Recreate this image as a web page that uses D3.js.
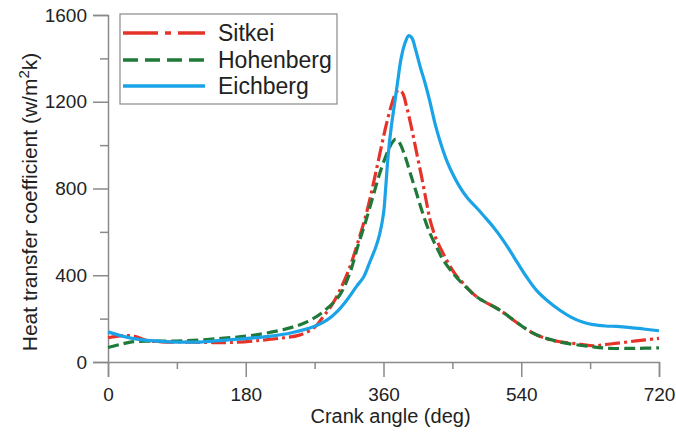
<!DOCTYPE html>
<html>
<head>
<meta charset="utf-8">
<script src="https://cdn.jsdelivr.net/npm/d3@7"></script>
<style>
  html, body { margin: 0; padding: 0; background: #fff; }
  svg { display: block; font-family: "Liberation Sans", Arial, sans-serif; }
</style>
</head>
<body>
<svg id="chart" width="676" height="436"></svg>
<script>
// ---- Data ----
const sitkeiAngle = [0, 20, 35, 50, 70, 100, 130, 160, 200, 230, 250, 270, 281, 292, 303, 316, 329, 338, 346, 354, 362, 370, 376, 380, 385, 390, 396, 403, 410, 416, 421, 428, 438, 453, 465, 482, 512, 535, 556, 575, 591, 610, 634, 656, 690, 720];
const sitkeiValue = [112, 122, 118, 100, 93, 92, 90, 90, 100, 112, 124, 160, 208, 260, 331, 438, 580, 690, 810, 940, 1070, 1180, 1240, 1254, 1240, 1180, 1090, 970, 850, 740, 653, 575, 500, 408, 360, 300, 239, 180, 132, 105, 93, 85, 75, 83, 97, 109];

const hohenAngle = [0, 15, 31, 60, 96, 148, 191, 235, 260, 281, 303, 316, 327, 336, 346, 356, 366, 372, 376, 381, 388, 395, 403, 410, 420, 430, 438, 453, 465, 482, 512, 556, 590, 634, 656, 690, 720];
const hohenValue = [67, 80, 93, 96, 97, 109, 124, 155, 185, 231, 310, 410, 540, 640, 760, 880, 975, 1015, 1028, 1010, 950, 870, 780, 700, 600, 525, 470, 400, 355, 300, 239, 132, 93, 70, 63, 63, 65];

const eichAngle = [0, 30, 60, 90, 120, 150, 180, 210, 240, 270, 286, 300, 312, 325, 334, 342, 350, 355, 360, 363, 366, 370, 374, 378, 383, 388, 393, 397, 402, 408, 414, 420, 428, 436, 443, 450, 460, 470, 482, 492, 504, 515, 525, 536, 547, 560, 575, 590, 605, 620, 634, 650, 665, 680, 700, 720];
const eichValue = [139, 110, 97, 92, 92, 100, 108, 118, 135, 165, 193, 235, 285, 350, 392, 460, 530, 590, 684, 810, 950, 1080, 1180, 1280, 1400, 1470, 1505, 1495, 1440, 1360, 1290, 1210, 1090, 995, 925, 870, 805, 755, 710, 670, 620, 568, 515, 452, 392, 330, 280, 240, 207, 184, 172, 166, 164, 160, 152, 144];

const seriesNames = ["Sitkei", "Hohenberg", "Eichberg"];
const xTickValues = [0, 180, 360, 540, 720];
const xMinorTicks = [90, 270, 450, 630];
const yTickValues = [0, 400, 800, 1200, 1600];
const yMinorTicks = [200, 600, 1000, 1400];
const xTitle = "Crank angle (deg)";

// ---- Layout ----
const svg = d3.select("#chart");
const mLeft = 108, mRight = 659, mTop = 15, mBottom = 362;
const x = d3.scaleLinear().domain([0, 720]).range([mLeft, mRight]);
const y = d3.scaleLinear().domain([0, 1600]).range([mBottom, mTop]);
const axisColor = "#8a8a8a";

// Y axis
svg.append("g").attr("transform", `translate(${mLeft},0)`)
  .call(d3.axisLeft(y).tickValues(yTickValues).tickSize(15).tickPadding(6).tickFormat(d3.format("d")));
svg.append("g").attr("transform", `translate(${mLeft},0)`)
  .call(d3.axisLeft(y).tickValues(yMinorTicks).tickSize(8).tickFormat(""))
  .call(g => g.select(".domain").remove());

// X axis
svg.append("g").attr("transform", `translate(0,${mBottom})`)
  .call(d3.axisBottom(x).tickValues(xTickValues).tickSize(15).tickPadding(11).tickFormat(d3.format("d")));
svg.append("g").attr("transform", `translate(0,${mBottom})`)
  .call(d3.axisBottom(x).tickValues(xMinorTicks).tickSize(7).tickFormat(""))
  .call(g => g.select(".domain").remove());

svg.selectAll(".domain").attr("stroke", axisColor).attr("stroke-width", 1.5);
svg.selectAll(".tick line").attr("stroke", axisColor).attr("stroke-width", 1.5);
svg.selectAll(".tick text").attr("fill", "#222").attr("font-size", 19)
  .attr("font-family", "'Liberation Sans', Arial, sans-serif");

// Axis titles
svg.append("text").attr("x", (mLeft + mRight) / 2 + 7).attr("y", 423)
  .attr("text-anchor", "middle").attr("font-size", 20).attr("fill", "#222").text(xTitle);

const yt = svg.append("text")
  .attr("transform", `translate(37,${202}) rotate(-90)`)
  .attr("text-anchor", "middle").attr("font-size", 21).attr("fill", "#222");
yt.append("tspan").text("Heat transfer coefficient (w/m");
yt.append("tspan").attr("font-size", 15).attr("dy", -8).text("2");
yt.append("tspan").attr("dy", 8).text("k)");

// ---- Lines ----
const series = [
  { name: seriesNames[0], ax: sitkeiAngle, v: sitkeiValue, color: "#e6332a", dash: "15,4,3,4", legendDash: "35,7,6,7,30" },
  { name: seriesNames[1], ax: hohenAngle, v: hohenValue, color: "#1f7a3a", dash: "11,5", legendDash: "15,7" },
  { name: seriesNames[2], ax: eichAngle, v: eichValue, color: "#1aa3e6", dash: null, legendDash: null }
];

const line = d3.line().x(d => x(d[0])).y(d => y(d[1])).curve(d3.curveCatmullRom.alpha(0.5));

series.forEach(s => {
  const pts = s.ax.map((a, i) => [a, s.v[i]]);
  const p = svg.append("path").datum(pts)
    .attr("d", line).attr("fill", "none")
    .attr("stroke", s.color).attr("stroke-width", 3.2)
    .attr("stroke-linejoin", "round");
  if (s.dash) p.attr("stroke-dasharray", s.dash);
});

// ---- Legend ----
const lg = svg.append("g");
lg.append("rect").attr("x", 120).attr("y", 14).attr("width", 217).attr("height", 90)
  .attr("fill", "#fff").attr("stroke", "#8a8a8a").attr("stroke-width", 1.2);
const rowY = [33, 60, 86];
series.forEach((s, i) => {
  const l = lg.append("line").attr("x1", 123).attr("x2", 205)
    .attr("y1", rowY[i]).attr("y2", rowY[i])
    .attr("stroke", s.color).attr("stroke-width", 3.5);
  if (s.legendDash) l.attr("stroke-dasharray", s.legendDash);
  lg.append("text").attr("x", 218).attr("y", rowY[i]).attr("dy", "0.35em")
    .attr("font-size", 23).attr("fill", "#222").text(s.name);
});
</script>
</body>
</html>
